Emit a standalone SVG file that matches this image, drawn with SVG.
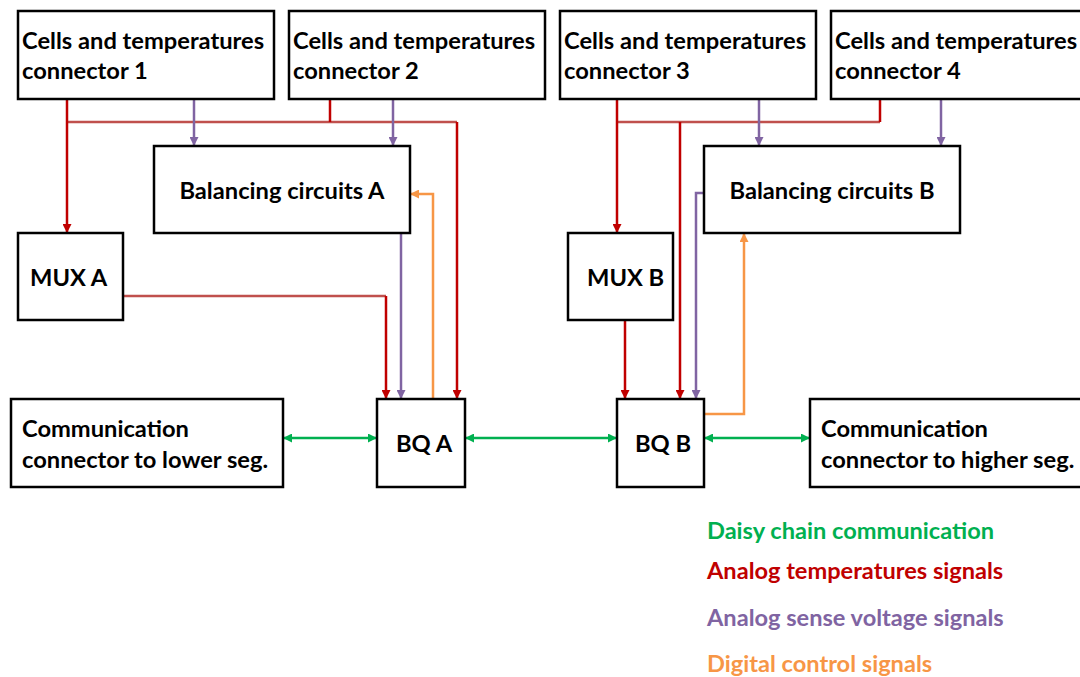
<svg xmlns="http://www.w3.org/2000/svg" width="1080" height="677" viewBox="0 0 1080 677">
  <style>
    .box { fill: #ffffff; stroke: #000000; stroke-width: 2.5; }
    .lbl { font-family: Lato, "Open Sans", sans-serif; font-weight: bold; font-size: 23.7px; fill: #000000; }
    .leg { font-family: Lato, "Open Sans", sans-serif; font-weight: bold; font-size: 23.6px; }
    .wire { fill: none; stroke-width: 2.5; }
    .temp { stroke: #C00000; }
    .bus { stroke: #C0504D; }
    .sense { stroke: #8064A2; }
    .ctrl { stroke: #F79646; }
    .daisy { stroke: #00B050; }
  </style>
  <defs>
    <marker id="ah-temp" viewBox="0 0 10 10" refX="10" refY="5" markerWidth="3.6" markerHeight="3.6" orient="auto-start-reverse" markerUnits="strokeWidth">
      <path d="M0,0 L10,5 L0,10 z" fill="#C00000"/>
    </marker>
    <marker id="ah-sense" viewBox="0 0 10 10" refX="10" refY="5" markerWidth="3.6" markerHeight="3.6" orient="auto-start-reverse" markerUnits="strokeWidth">
      <path d="M0,0 L10,5 L0,10 z" fill="#8064A2"/>
    </marker>
    <marker id="ah-ctrl" viewBox="0 0 10 10" refX="10" refY="5" markerWidth="3.6" markerHeight="3.6" orient="auto-start-reverse" markerUnits="strokeWidth">
      <path d="M0,0 L10,5 L0,10 z" fill="#F79646"/>
    </marker>
    <marker id="ah-daisy" viewBox="0 0 10 10" refX="10" refY="5" markerWidth="3.6" markerHeight="3.6" orient="auto-start-reverse" markerUnits="strokeWidth">
      <path d="M0,0 L10,5 L0,10 z" fill="#00B050"/>
    </marker>
  </defs>

  <rect width="1080" height="677" fill="#ffffff"/>

  <!-- signal wiring -->
  <g id="connectors">
    <!-- segment A: temperature bus -->
    <path class="wire bus" d="M67,122 H457"/>
    <path class="wire temp" d="M330,99 V122"/>
    <path class="wire temp" d="M67,99 V233" marker-end="url(#ah-temp)"/>
    <path class="wire temp" d="M457,122 V399" marker-end="url(#ah-temp)"/>
    <path class="wire bus" d="M123,296 H386"/>
    <path class="wire temp" d="M386,296 V399" marker-end="url(#ah-temp)"/>
    <!-- segment A: sense lines -->
    <path class="wire sense" d="M194,99 V146" marker-end="url(#ah-sense)"/>
    <path class="wire sense" d="M393,99 V146" marker-end="url(#ah-sense)"/>
    <path class="wire sense" d="M401,233 V399" marker-end="url(#ah-sense)"/>
    <!-- segment A: balancing control -->
    <path class="wire ctrl" d="M433,399 V194 H410" marker-end="url(#ah-ctrl)"/>

    <!-- segment B: temperature bus -->
    <path class="wire bus" d="M617,122 H880"/>
    <path class="wire temp" d="M880,99 V122"/>
    <path class="wire temp" d="M617,99 V233" marker-end="url(#ah-temp)"/>
    <path class="wire temp" d="M680,122 V399" marker-end="url(#ah-temp)"/>
    <path class="wire temp" d="M625,320 V399" marker-end="url(#ah-temp)"/>
    <!-- segment B: sense lines -->
    <path class="wire sense" d="M759,99 V146" marker-end="url(#ah-sense)"/>
    <path class="wire sense" d="M941,99 V146" marker-end="url(#ah-sense)"/>
    <path class="wire sense" d="M704,193 H696 V399" marker-end="url(#ah-sense)"/>
    <!-- segment B: balancing control -->
    <path class="wire ctrl" d="M704,414 H744 V233" marker-end="url(#ah-ctrl)"/>

    <!-- daisy chain -->
    <path class="wire daisy" d="M283,438 H377" marker-start="url(#ah-daisy)" marker-end="url(#ah-daisy)"/>
    <path class="wire daisy" d="M465,438 H617" marker-start="url(#ah-daisy)" marker-end="url(#ah-daisy)"/>
    <path class="wire daisy" d="M704,438 H810" marker-start="url(#ah-daisy)" marker-end="url(#ah-daisy)"/>
  </g>

  <g id="conn1">
    <rect class="box" x="18" y="11" width="256" height="88"/>
    <text class="lbl" x="22" y="49">Cells and temperatures</text>
    <text class="lbl" x="22" y="79">connector 1</text>
  </g>
  <g id="conn2">
    <rect class="box" x="289" y="11" width="256" height="88"/>
    <text class="lbl" x="293" y="49">Cells and temperatures</text>
    <text class="lbl" x="293" y="79">connector 2</text>
  </g>
  <g id="conn3">
    <rect class="box" x="560" y="11" width="256" height="88"/>
    <text class="lbl" x="564" y="49">Cells and temperatures</text>
    <text class="lbl" x="564" y="79">connector 3</text>
  </g>
  <g id="conn4">
    <rect class="box" x="831" y="11" width="256" height="88"/>
    <text class="lbl" x="835" y="49">Cells and temperatures</text>
    <text class="lbl" x="835" y="79">connector 4</text>
  </g>

  <g id="balA">
    <rect class="box" x="154" y="146" width="256" height="87"/>
    <text class="lbl" x="282" y="199" text-anchor="middle">Balancing circuits A</text>
  </g>
  <g id="balB">
    <rect class="box" x="704" y="146" width="256" height="87"/>
    <text class="lbl" x="832" y="199" text-anchor="middle">Balancing circuits B</text>
  </g>

  <g id="muxA">
    <rect class="box" x="18" y="233" width="105" height="87"/>
    <text class="lbl" x="30" y="286">MUX A</text>
  </g>
  <g id="muxB">
    <rect class="box" x="568" y="233" width="105" height="87"/>
    <text class="lbl" x="587" y="286">MUX B</text>
  </g>

  <g id="commLow">
    <rect class="box" x="11" y="399" width="272" height="88"/>
    <text class="lbl" x="22" y="437">Communication</text>
    <text class="lbl" x="22" y="468">connector to lower seg.</text>
  </g>
  <g id="bqA">
    <rect class="box" x="377" y="399" width="88" height="88"/>
    <text class="lbl" x="396" y="452">BQ A</text>
  </g>
  <g id="bqB">
    <rect class="box" x="617" y="399" width="87" height="88"/>
    <text class="lbl" x="635" y="452">BQ B</text>
  </g>
  <g id="commHigh">
    <rect class="box" x="810" y="399" width="272" height="88"/>
    <text class="lbl" x="821" y="437">Communication</text>
    <text class="lbl" x="821" y="468">connector to higher seg.</text>
  </g>

  <g id="legend">
    <text class="leg" x="707" y="539" fill="#00B050">Daisy chain communication</text>
    <text class="leg" x="707" y="579" fill="#C00000">Analog temperatures signals</text>
    <text class="leg" x="707" y="626" fill="#8064A2">Analog sense voltage signals</text>
    <text class="leg" x="707" y="672" fill="#F79646">Digital control signals</text>
  </g>
</svg>
